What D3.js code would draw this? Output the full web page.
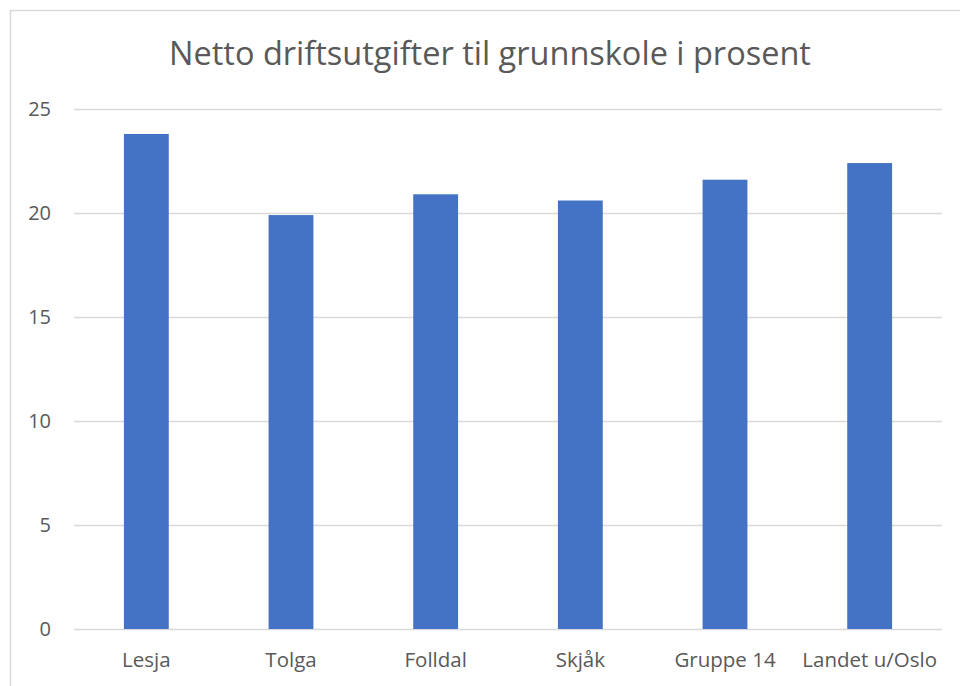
<!DOCTYPE html>
<html>
<head>
<meta charset="utf-8">
<script src="https://cdn.jsdelivr.net/npm/d3@7"></script>
<style>
  body { margin: 0; background: #fff; }
  svg { display: block; font-family: "Open Sans", sans-serif; }
</style>
</head>
<body>
<svg width="960" height="686"></svg>
<script>
var categories = ["Lesja", "Tolga", "Folldal", "Skjåk", "Gruppe 14", "Landet u/Oslo"];
var values = [23.8, 19.9, 20.9, 20.6, 21.6, 22.4];
var yTicks = [0, 5, 10, 15, 20, 25];
var title = "Netto driftsutgifter til grunnskole i prosent";

var svg = d3.select("svg"),
    margin = {top: 109, right: 18, bottom: 57, left: 74},
    width = +svg.attr("width") - margin.left - margin.right,
    height = +svg.attr("height") - margin.top - margin.bottom;

// chart frame (only left and top edges show in the picture)
svg.append("rect")
    .attr("x", 10.5).attr("y", 10.5)
    .attr("width", 1000).attr("height", 1000)
    .attr("fill", "none")
    .attr("stroke", "#d9d9d9")
    .attr("stroke-width", 1.5);

svg.append("text")
    .attr("x", 490)
    .attr("y", 65)
    .attr("text-anchor", "middle")
    .attr("fill", "#595959")
    .style("font-size", "32.5px")
    .text(title);

var g = svg.append("g").attr("transform", "translate(" + margin.left + "," + margin.top + ")");

var x = d3.scaleBand()
    .domain(categories)
    .range([0, width])
    .paddingInner(0.69)
    .paddingOuter(0.345);

var y = d3.scaleLinear()
    .domain([0, 25])
    .range([height, 0]);

// gridlines
g.append("g")
    .selectAll("line")
    .data(yTicks)
  .enter().append("line")
    .attr("x1", 0)
    .attr("x2", width)
    .attr("y1", function(d) { return Math.round(y(d)) + 0.5; })
    .attr("y2", function(d) { return Math.round(y(d)) + 0.5; })
    .attr("stroke", "#d9d9d9")
    .attr("stroke-width", 1.5);

// y axis labels
var yAxis = g.append("g")
    .call(d3.axisLeft(y).tickValues(yTicks).tickSize(0).tickPadding(23));
yAxis.select(".domain").remove();
yAxis.selectAll("text")
    .attr("fill", "#595959")
    .style("font-size", "20px")
    .style("font-family", "'Open Sans', sans-serif");

// bars
g.selectAll(".bar")
    .data(values)
  .enter().append("rect")
    .attr("class", "bar")
    .attr("x", function(d, i) { return x(categories[i]); })
    .attr("y", function(d) { return y(d); })
    .attr("width", x.bandwidth())
    .attr("height", function(d) { return height - y(d); })
    .attr("fill", "#4472c4");

// x axis labels
var xAxis = g.append("g")
    .attr("transform", "translate(0," + height + ")")
    .call(d3.axisBottom(x).tickSize(0).tickPadding(23.5));
xAxis.select(".domain").remove();
xAxis.selectAll("text")
    .attr("fill", "#595959")
    .style("font-size", "20.5px")
    .style("font-family", "'Open Sans', sans-serif");
</script>
</body>
</html>
